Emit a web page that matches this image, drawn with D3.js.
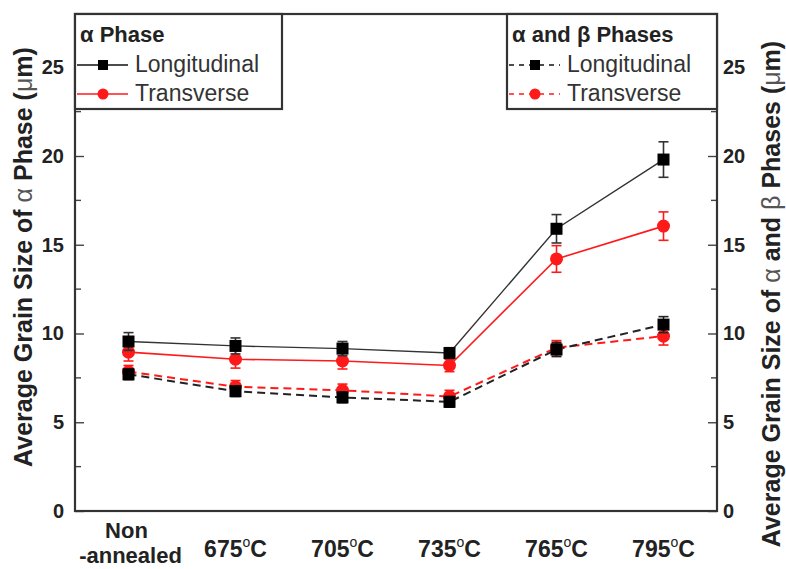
<!DOCTYPE html>
<html>
<head>
<meta charset="utf-8">
<script src="https://cdn.jsdelivr.net/npm/d3@7"></script>
<style>
  body { margin: 0; background: #fff; }
  text { font-family: "Liberation Sans", Arial, sans-serif; }
</style>
</head>
<body>
<div id="chart"></div>
<script>
// categories and values
const categories = ["Non-annealed", "675", "705", "735", "765", "795"];

const alphaLong = [9.55, 9.3, 9.15, 8.9, 15.9, 19.8];
const alphaLongErr = [0.5, 0.45, 0.4, 0.3, 0.8, 1.0];
const alphaTrans = [8.95, 8.55, 8.45, 8.2, 14.2, 16.05];
const alphaTransErr = [0.5, 0.5, 0.45, 0.35, 0.75, 0.8];

const abLong = [7.7, 6.75, 6.4, 6.15, 9.1, 10.5];
const abLongErr = [0.3, 0.3, 0.3, 0.3, 0.4, 0.45];
const abTrans = [7.85, 7.0, 6.8, 6.45, 9.2, 9.85];
const abTransErr = [0.35, 0.35, 0.35, 0.35, 0.4, 0.5];

const yTicks = [0, 5, 10, 15, 20, 25];

// layout
const W = 786, H = 569;
const plot = {left: 75, right: 717, top: 14, bottom: 511};
const RED = "#ff1a1a";
const TXT = "#222";

const svg = d3.select("#chart").append("svg")
    .attr("width", W)
    .attr("height", H);

const x = d3.scalePoint()
    .domain(categories)
    .range([plot.left, plot.right])
    .padding(0.5);

const y = d3.scaleLinear()
    .domain([0, 28])
    .range([plot.bottom, plot.top]);

//Left and right axes, ticks pointing inward
const minor = d3.range(2.5, 28, 5);
const leftAxis = svg.append("g").attr("transform", `translate(${plot.left},0)`);
leftAxis.call(d3.axisLeft(y).tickValues(yTicks).tickSize(-9).tickPadding(11).tickFormat(d3.format("d")));
leftAxis.append("g").selectAll("line").data(minor).join("line")
    .attr("x1", 0).attr("x2", 6).attr("y1", d => y(d)).attr("y2", d => y(d))
    .attr("stroke", "#444").attr("stroke-width", 1.4);

const rightAxis = svg.append("g").attr("transform", `translate(${plot.right},0)`);
rightAxis.call(d3.axisRight(y).tickValues(yTicks).tickSize(-9).tickPadding(6).tickFormat(d3.format("d")));
rightAxis.append("g").selectAll("line").data(minor).join("line")
    .attr("x1", 0).attr("x2", -6).attr("y1", d => y(d)).attr("y2", d => y(d))
    .attr("stroke", "#444").attr("stroke-width", 1.4);

[leftAxis, rightAxis].forEach(g => {
    g.select(".domain").remove();
    g.selectAll(".tick line").attr("stroke", "#444").attr("stroke-width", 1.4);
    g.selectAll(".tick text")
        .attr("font-size", 20).attr("font-weight", "bold").attr("fill", TXT)
        .attr("font-family", "Liberation Sans, Arial, sans-serif");
});

// frame
svg.append("rect")
    .attr("x", plot.left).attr("y", plot.top)
    .attr("width", plot.right - plot.left).attr("height", plot.bottom - plot.top)
    .attr("fill", "none").attr("stroke", "#333").attr("stroke-width", 2.2);

// x labels
const xl = svg.append("g");
categories.forEach(c => {
    const t = xl.append("text")
        .attr("x", x(c))
        .attr("text-anchor", "middle")
        .attr("font-size", 23).attr("font-weight", "bold").attr("fill", TXT);
    if (c === "Non-annealed") {
        t.attr("font-size", 22);
        t.append("tspan").attr("x", x(c) - 2).attr("y", 538).text("Non");
        t.append("tspan").attr("x", x(c) + 2).attr("y", 563).text("-annealed");
    } else {
        t.attr("y", 557);
        t.append("tspan").text(c);
        t.append("tspan").attr("font-size", 14).attr("font-weight", "normal").attr("dy", -10).text("o");
        t.append("tspan").attr("dy", 10).text("C");
    }
});

// axis titles
svg.append("text")
    .attr("transform", `translate(32,257) rotate(-90)`)
    .attr("text-anchor", "middle")
    .attr("font-size", 25).attr("font-weight", "bold").attr("fill", TXT)
    .call(t => {
        t.append("tspan").text("Average Grain Size of ");
        t.append("tspan").attr("font-weight", "normal").attr("fill", "#555").text("α");
        t.append("tspan").text(" Phase (");
        t.append("tspan").attr("font-weight", "normal").attr("fill", "#555").text("μ");
        t.append("tspan").text("m)");
    });

svg.append("text")
    .attr("transform", `translate(780,294) rotate(-90)`)
    .attr("text-anchor", "middle")
    .attr("font-size", 25).attr("font-weight", "bold").attr("fill", TXT)
    .call(t => {
        t.append("tspan").text("Average Grain Size of ");
        t.append("tspan").attr("font-weight", "normal").attr("fill", "#555").text("α");
        t.append("tspan").text(" and ");
        t.append("tspan").attr("font-weight", "normal").attr("fill", "#555").text("β");
        t.append("tspan").text(" Phases (");
        t.append("tspan").attr("font-weight", "normal").attr("fill", "#555").text("μ");
        t.append("tspan").text("m)");
    });

// series
const series = [
    {vals: abTrans, err: abTransErr, color: RED, dash: "8,5", shape: "circle", w: 2},
    {vals: abLong, err: abLongErr, color: "#222", dash: "8,5", shape: "square", w: 2},
    {vals: alphaTrans, err: alphaTransErr, color: RED, dash: null, shape: "circle", w: 1.6},
    {vals: alphaLong, err: alphaLongErr, color: "#333", dash: null, shape: "square", w: 1.4}
];

const line = d3.line()
    .x((d, i) => x(categories[i]))
    .y(d => y(d));

series.forEach(s => {
    svg.append("path")
        .attr("d", line(s.vals))
        .attr("fill", "none")
        .attr("stroke", s.color)
        .attr("stroke-width", s.w)
        .attr("stroke-dasharray", s.dash);
});

series.forEach(s => {
    const g = svg.append("g");
    s.vals.forEach((v, i) => {
        const cx = x(categories[i]);
        const top = y(v + s.err[i]), bot = y(v - s.err[i]);
        g.append("line").attr("x1", cx).attr("x2", cx).attr("y1", top).attr("y2", bot)
            .attr("stroke", s.color).attr("stroke-width", 1.6);
        [top, bot].forEach(yy => g.append("line")
            .attr("x1", cx - 5).attr("x2", cx + 5).attr("y1", yy).attr("y2", yy)
            .attr("stroke", s.color).attr("stroke-width", 1.6));
        if (s.shape === "square") {
            g.append("rect").attr("x", cx - 6).attr("y", y(v) - 6)
                .attr("width", 12).attr("height", 12).attr("fill", "#000");
        } else {
            g.append("circle").attr("cx", cx).attr("cy", y(v)).attr("r", 6.5).attr("fill", RED);
        }
    });
});

// legends
function legend(x0, x1, title, dashed) {
    const g = svg.append("g");
    g.append("rect").attr("x", x0).attr("y", plot.top).attr("width", x1 - x0).attr("height", 95)
        .attr("fill", "#fff").attr("stroke", "#333").attr("stroke-width", 2.2);
    g.append("text").attr("x", x0 + 5).attr("y", 42)
        .attr("font-size", 22).attr("font-weight", "bold").attr("fill", TXT)
        .call(t => {
            title.forEach(p => t.append("tspan").text(p));
        });
    const rows = [
        {label: "Longitudinal", color: "#111", shape: "square", y: 65},
        {label: "Transverse", color: RED, shape: "circle", y: 94}
    ];
    rows.forEach(r => {
        const lx0 = x0 + 2, lx1 = x0 + 53, mid = x0 + 28;
        g.append("line").attr("x1", lx0).attr("x2", lx1).attr("y1", r.y).attr("y2", r.y)
            .attr("stroke", r.color).attr("stroke-width", 1.5)
            .attr("stroke-dasharray", dashed ? "5,5" : null);
        if (r.shape === "square") {
            g.append("rect").attr("x", mid - 5).attr("y", r.y - 5).attr("width", 10).attr("height", 10).attr("fill", "#000");
        } else {
            g.append("circle").attr("cx", mid).attr("cy", r.y).attr("r", 5.5).attr("fill", RED);
        }
        g.append("text").attr("x", x0 + 60).attr("y", r.y + 7)
            .attr("font-size", 23).attr("fill", "#333").text(r.label);
    });
}

legend(plot.left, 282, ["α", " Phase"], false);
legend(507, plot.right, ["α", " and ", "β", " Phases"], true);
</script>
</body>
</html>
